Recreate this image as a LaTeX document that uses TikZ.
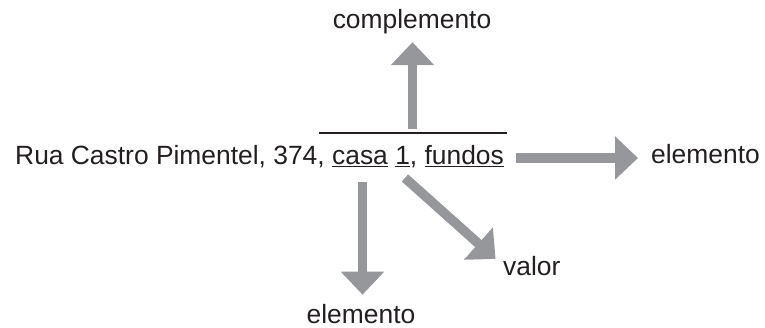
\documentclass[tikz,border=0pt]{standalone}
\usepackage{fontspec}
\setmainfont{Liberation Sans}
\usepackage{xcolor}
\usepackage{tikz}
\usetikzlibrary{arrows.meta, positioning, calc}
\definecolor{arrowgray}{RGB}{150,151,155}
\definecolor{ink}{RGB}{35,31,32}
\newcommand{\ulin}[1]{\setbox0\hbox{#1}\rlap{\color{ink}\rule[-3pt]{\wd0}{1.3pt}}\box0\relax}

\begin{document}
\begin{tikzpicture}[
    x=1pt, y=-1pt,
    lbl/.style={inner sep=0pt, text=ink, font=\fontsize{26.4}{30}\selectfont},
    arr/.style={-{Triangle[length=23pt, width=42pt]}, line width=9.5pt, arrowgray},
    overbar/.style={draw=ink, line width=1.2pt},
]
\useasboundingbox (0,0) rectangle (765,327);

\node[lbl, anchor=base west] (addr)  at (15,164)  {Rua Castro Pimentel, 374, \ulin{casa} \ulin{1}, \ulin{fundos}};
\node[lbl, anchor=base]      (compl) at (412,28)  {complemento};
\node[lbl, anchor=base west] (elemR) at (651,163) {elemento};
\node[lbl, anchor=base]      (elemB) at (361,323) {elemento};
\node[lbl, anchor=base west] (valor) at (503,275) {valor};

% bar over "casa 1, fundos"
\draw[overbar] (319,133) -- (507,133);

\coordinate (srcU) at (412.5,129);
\coordinate (srcR) at (516,158);
\coordinate (srcD) at (362.5,182);
\coordinate (srcV) at (405,178);

\draw[arr, shorten >=8.5pt] (srcU) -- (srcU |- compl.south);
\draw[arr, shorten >=13pt]  (srcR) -- (srcR -| elemR.west);
\draw[arr, shorten >=9pt]   (srcD) -- (srcD |- elemB.north);
\draw[arr, shorten >=10pt]  (srcV) -- (valor.west);
\end{tikzpicture}
\end{document}
